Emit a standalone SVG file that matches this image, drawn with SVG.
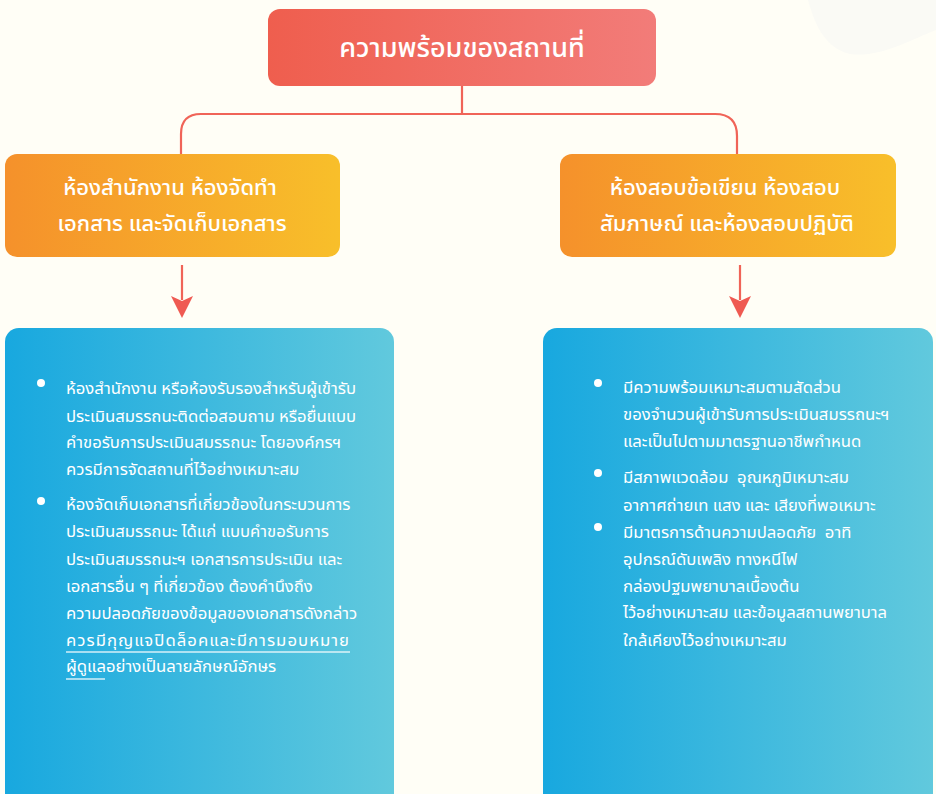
<svg xmlns="http://www.w3.org/2000/svg" width="936" height="794" viewBox="0 0 936 794">
  <defs>
    <linearGradient id="gTitle" x1="0" y1="0" x2="1" y2="0">
      <stop offset="0" stop-color="#EF5E4E"/>
      <stop offset="1" stop-color="#F27C79"/>
    </linearGradient>
    <linearGradient id="gOrange" x1="0" y1="0" x2="1" y2="0">
      <stop offset="0" stop-color="#F5912B"/>
      <stop offset="1" stop-color="#F8BF2A"/>
    </linearGradient>
    <linearGradient id="gBlue" x1="0" y1="0" x2="1" y2="0">
      <stop offset="0" stop-color="#18A8DF"/>
      <stop offset="1" stop-color="#61C9DD"/>
    </linearGradient>
    <!-- notched arrowhead, drawn pointing along +x so orient="auto" turns it with the line -->
    <marker id="arrow" viewBox="0 0 24 24" markerWidth="24" markerHeight="24" refX="4" refY="12" orient="auto" markerUnits="userSpaceOnUse">
      <path d="M0 1 L22 12 L0 23 L5 12 Z" fill="#EF5A52"/>
    </marker>
    <style>
      text { font-family: "Noto Sans Thai", "Noto Sans", "DejaVu Sans", sans-serif; fill: #FFFFFF; }
      .title { font-size: 27px; font-weight: 500; text-anchor: middle; }
      .head { font-size: 22px; font-weight: 500; text-anchor: middle; }
      .body { font-size: 16.7px; }
      .link { stroke: #FFFFFF; stroke-opacity: 0.8; stroke-width: 1.5; }
      .conn { fill: none; stroke: #F06458; stroke-width: 2.2; }
    </style>
  </defs>

  <!-- page -->
  <rect width="936" height="794" fill="#FFFEF6"/>
  <path d="M808 0 C815 25 825 48 850 54 C880 58 910 40 936 30 L936 0 Z" fill="#FAFAF5"/>

  <!-- connectors -->
  <g id="connectors">
    <path class="conn" d="M462 86 V114"/>
    <path class="conn" d="M181 155 V134 Q181 114 201 114 H715 Q737 114 737 136 V155"/>
    <path class="conn" d="M182 265 V300" marker-end="url(#arrow)"/>
    <path class="conn" d="M740 265 V300" marker-end="url(#arrow)"/>
  </g>

  <!-- root -->
  <g id="root">
    <rect x="268" y="9" width="388" height="77" rx="12" fill="url(#gTitle)"/>
    <text class="title" x="462" y="57">ความพร้อมของสถานที่</text>
  </g>

  <!-- office / document rooms -->
  <g id="office">
    <rect x="5" y="154" width="335" height="103" rx="12" fill="url(#gOrange)"/>
    <text class="head" x="170" y="195">ห้องสำนักงาน ห้องจัดทำ</text>
    <text class="head" x="172" y="231">เอกสาร และจัดเก็บเอกสาร</text>
  </g>

  <!-- exam rooms -->
  <g id="exam">
    <rect x="560" y="154" width="336" height="103" rx="12" fill="url(#gOrange)"/>
    <text class="head" x="725" y="195">ห้องสอบข้อเขียน ห้องสอบ</text>
    <text class="head" x="727" y="231">สัมภาษณ์ และห้องสอบปฏิบัติ</text>
  </g>

  <!-- office details -->
  <g id="office-detail">
    <rect x="5" y="328" width="389" height="490" rx="14" fill="url(#gBlue)"/>
    <circle cx="41" cy="383" r="4" fill="#FFFFFF"/>
    <circle cx="41" cy="501" r="4" fill="#FFFFFF"/>
    <text class="body" x="66" y="394">ห้องสำนักงาน หรือห้องรับรองสำหรับผู้เข้ารับ</text>
    <text class="body" x="66" y="422">ประเมินสมรรถนะติดต่อสอบถาม หรือยื่นแบบ</text>
    <text class="body" x="66" y="448">คำขอรับการประเมินสมรรถนะ โดยองค์กรฯ</text>
    <text class="body" x="66" y="475">ควรมีการจัดสถานที่ไว้อย่างเหมาะสม</text>
    <text class="body" x="66" y="510">ห้องจัดเก็บเอกสารที่เกี่ยวข้องในกระบวนการ</text>
    <text class="body" x="66" y="537">ประเมินสมรรถนะ ได้แก่ แบบคำขอรับการ</text>
    <text class="body" x="66" y="565">ประเมินสมรรถนะฯ เอกสารการประเมิน และ</text>
    <text class="body" x="66" y="592">เอกสารอื่น ๆ ที่เกี่ยวข้อง ต้องคำนึงถึง</text>
    <text class="body" x="66" y="619">ความปลอดภัยของข้อมูลของเอกสารดังกล่าว</text>
    <text class="body" x="66" y="646" textLength="283" lengthAdjust="spacing">ควรมีกุญแจปิดล็อคและมีการมอบหมาย</text>
    <text class="body" x="66" y="672">ผู้ดูแลอย่างเป็นลายลักษณ์อักษร</text>
    <path class="link" d="M66 652 H350 M66 679 H105"/>
  </g>

  <!-- exam room details -->
  <g id="exam-detail">
    <rect x="543" y="328" width="390" height="490" rx="14" fill="url(#gBlue)"/>
    <circle cx="598" cy="383" r="4" fill="#FFFFFF"/>
    <circle cx="598" cy="473" r="4" fill="#FFFFFF"/>
    <circle cx="598" cy="527" r="4" fill="#FFFFFF"/>
    <text class="body" x="623" y="393">มีความพร้อมเหมาะสมตามสัดส่วน</text>
    <text class="body" x="623" y="420">ของจำนวนผู้เข้ารับการประเมินสมรรถนะฯ</text>
    <text class="body" x="623" y="447">และเป็นไปตามมาตรฐานอาชีพกำหนด</text>
    <text class="body" x="623" y="483" xml:space="preserve">มีสภาพแวดล้อม  อุณหภูมิเหมาะสม</text>
    <text class="body" x="623" y="511">อากาศถ่ายเท แสง และ เสียงที่พอเหมาะ</text>
    <text class="body" x="623" y="538" xml:space="preserve">มีมาตรการด้านความปลอดภัย  อาทิ</text>
    <text class="body" x="623" y="565">อุปกรณ์ดับเพลิง ทางหนีไฟ</text>
    <text class="body" x="623" y="592">กล่องปฐมพยาบาลเบื้องต้น</text>
    <text class="body" x="623" y="618">ไว้อย่างเหมาะสม และข้อมูลสถานพยาบาล</text>
    <text class="body" x="623" y="646">ใกล้เคียงไว้อย่างเหมาะสม</text>
  </g>
</svg>
